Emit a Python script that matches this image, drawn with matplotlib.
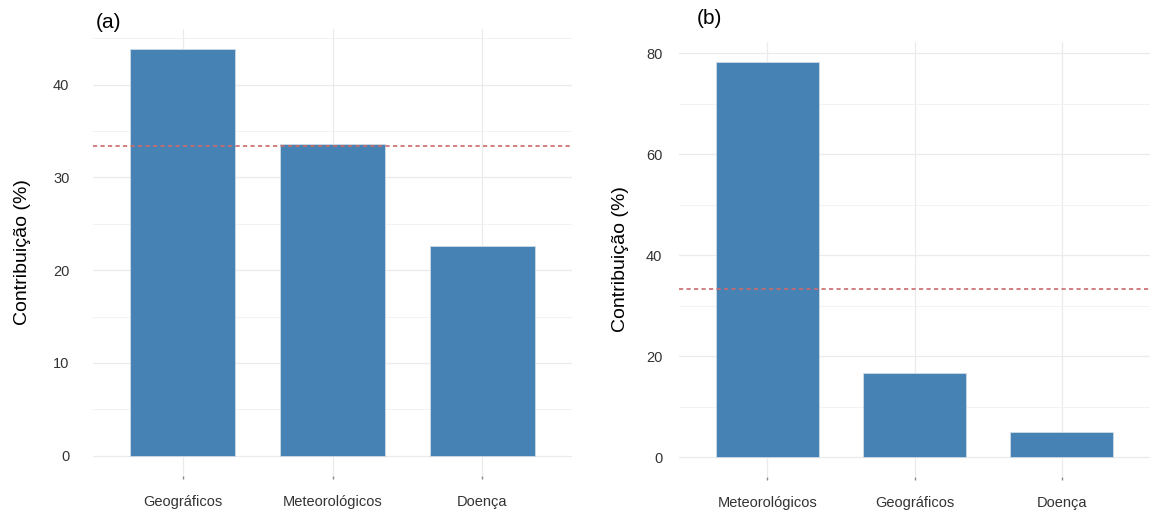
import numpy as np
import matplotlib
matplotlib.use("Agg")
import matplotlib.pyplot as plt
from matplotlib.ticker import MultipleLocator

plt.rcParams['font.family'] = ['Liberation Sans', 'DejaVu Sans']

# panel (a)
cats_a = ['Geográficos', 'Meteorológicos', 'Doença']
vals_a = [43.8, 33.6, 22.6]
# panel (b)
cats_b = ['Meteorológicos', 'Geográficos', 'Doença']
vals_b = [78.3, 16.7, 5.0]

W, H = 1150, 513
fig = plt.figure(figsize=(W / 100, H / 100), dpi=100)

def box(l, r, t, b):
    return [l / W, 1 - b / H, (r - l) / W, (b - t) / H]

def panel(ax, cats, vals, major, minor, ypad, lpad):
    x = np.arange(1, len(cats) + 1)
    ax.bar(x, vals, width=0.7, color='#4682B4', edgecolor='#cfdbe6', linewidth=0.6, zorder=2)
    ax.axhline(np.mean(vals), color='#c96a6a', linestyle=(0, (2.5, 2)), linewidth=1.2, zorder=3)
    top = max(vals) * 1.05
    ax.set_xlim(0.4, len(cats) + 0.6)
    ax.set_ylim(-max(vals) * 0.05, top)
    ax.set_xticks(x)
    ax.set_xticklabels(cats, fontsize=10.5, color='#333333')
    ax.yaxis.set_major_locator(MultipleLocator(major))
    ax.yaxis.set_minor_locator(MultipleLocator(minor))
    ax.grid(True, which='major', color='#ebebeb', linewidth=0.9, zorder=0)
    ax.grid(True, which='minor', axis='y', color='#f0f0f0', linewidth=0.6, zorder=0)
    ax.set_axisbelow(True)
    for s in ax.spines.values():
        s.set_visible(False)
    ax.tick_params(axis='x', length=2.5, width=1, color='#888888', pad=11)
    ax.tick_params(axis='y', length=0, labelsize=10.5, labelcolor='#333333', pad=ypad)
    ax.tick_params(which='minor', length=0)
    ax.set_ylabel('Contribuição (%)', fontsize=14, labelpad=lpad)
    return ax

ax1 = fig.add_axes(box(93, 572, 29, 476))
panel(ax1, cats_a, vals_a, 10, 5, 17, 16)
fig.text(96 / W, 1 - 28 / H, '(a)', fontsize=15, va='baseline')

ax2 = fig.add_axes(box(679, 1150, 42, 477))
panel(ax2, cats_b, vals_b, 20, 10, 12, 12)
fig.text(697 / W, 1 - 24 / H, '(b)', fontsize=15, va='baseline')

fig.savefig('out.png', dpi=100)
